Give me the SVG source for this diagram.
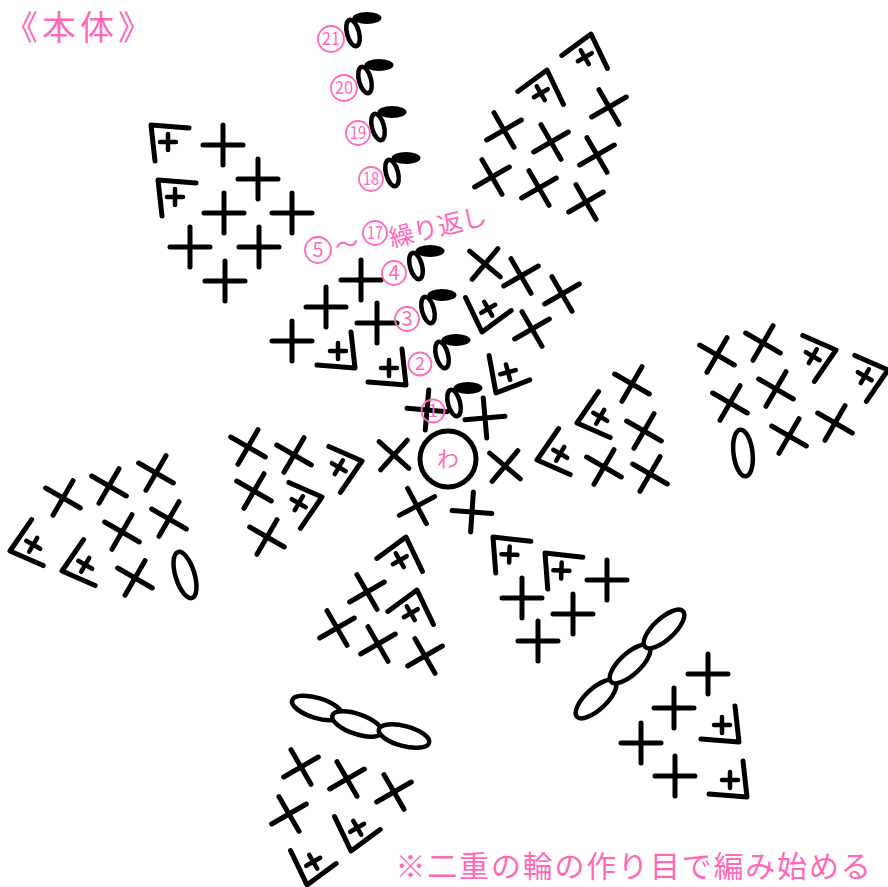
<svg xmlns="http://www.w3.org/2000/svg" width="888" height="887" viewBox="0 0 888 887">
<style>
.b{fill:none;stroke:#000;stroke-width:5;stroke-linecap:round;stroke-linejoin:round}
.s{stroke-width:4.5}
.o{fill:#fff;stroke:#000;stroke-width:4.5}
.f{fill:#000}
.r{fill:none;stroke:#ff69b8;stroke-width:1.8}
text{fill:#ff69b8;font-family:"Noto Sans CJK JP","Noto Sans",sans-serif;text-anchor:middle}
.n{font-size:18px}
</style>
<defs>
<path id="p" class="b" d="M-20 0H20M0-20V20"/>
<g id="c"><path class="b" d="M38 3L0 0L4 36"/><path class="b s" d="M9 17H25M17 9V25"/></g>
<g id="d"><ellipse class="f" cx="14" cy="-15" rx="14.5" ry="6"/><ellipse class="o" rx="6" ry="13.5" transform="rotate(-15)"/></g>
</defs>
<rect width="888" height="887" fill="#fff"/>
<g id="title"><text x="80" y="40" font-size="34" letter-spacing="4">《本体》</text></g>
<g id="ring"><circle class="b" cx="448" cy="459" r="28"/><text x="448" y="467" font-size="22">わ</text></g>
<g id="round-centre">
<use href="#p" transform="translate(427 410) rotate(5)"/>
<use href="#p" transform="translate(485 418) rotate(-5)"/>
<use href="#p" transform="translate(394 455) rotate(42)"/>
<use href="#p" transform="translate(505 466) rotate(40)"/>
<use href="#p" transform="translate(417 506) rotate(-28)"/>
<use href="#p" transform="translate(472 512) rotate(4)"/>
</g>
<g id="block-upper-left-inner">
<use href="#p" transform="translate(361 280)"/>
<use href="#p" transform="translate(326 307)"/>
<use href="#p" transform="translate(377 323)"/>
<use href="#p" transform="translate(292 341)"/>
<use href="#c" transform="translate(355 368) rotate(180)"/>
<use href="#c" transform="translate(406 385) rotate(180)"/>
</g>
<g id="block-upper-right-inner">
<use href="#p" transform="translate(485 264) rotate(40)"/>
<use href="#p" transform="translate(521 276) rotate(-30)"/>
<use href="#p" transform="translate(562 294) rotate(-30)"/>
<use href="#p" transform="translate(532 329) rotate(-30)"/>
<use href="#c" transform="translate(482 332) rotate(-120)"/>
<use href="#c" transform="translate(496 393) rotate(-105)"/>
</g>
<g id="block-top-left">
<use href="#p" transform="translate(223 145)"/>
<use href="#p" transform="translate(258 179)"/>
<use href="#p" transform="translate(224 213)"/>
<use href="#p" transform="translate(292 213)"/>
<use href="#p" transform="translate(190 247)"/>
<use href="#p" transform="translate(259 247)"/>
<use href="#p" transform="translate(225 281)"/>
<use href="#c" transform="translate(151 125)"/>
<use href="#c" transform="translate(158 180)"/>
</g>
<g id="block-top-right">
<use href="#p" transform="translate(504 130) rotate(-30)"/>
<use href="#p" transform="translate(551 142) rotate(-30)"/>
<use href="#p" transform="translate(609 107) rotate(-30)"/>
<use href="#p" transform="translate(597 155) rotate(-30)"/>
<use href="#p" transform="translate(492 177) rotate(-30)"/>
<use href="#p" transform="translate(539 188) rotate(-30)"/>
<use href="#p" transform="translate(586 202) rotate(-30)"/>
<use href="#c" transform="translate(547 70) rotate(60)"/>
<use href="#c" transform="translate(591 34) rotate(60)"/>
</g>
<g id="block-right-inner">
<use href="#p" transform="translate(632 384) rotate(30)"/>
<use href="#p" transform="translate(644 431) rotate(30)"/>
<use href="#p" transform="translate(604 467) rotate(30)"/>
<use href="#p" transform="translate(650 474) rotate(30)"/>
<use href="#c" transform="translate(577 423) rotate(-60)"/>
<use href="#c" transform="translate(537 460) rotate(-60)"/>
</g>
<g id="block-right-outer">
<use href="#p" transform="translate(717 355) rotate(30)"/>
<use href="#p" transform="translate(763 343) rotate(30)"/>
<use href="#p" transform="translate(730 403) rotate(30)"/>
<use href="#p" transform="translate(776 389) rotate(30)"/>
<use href="#p" transform="translate(835 423) rotate(30)"/>
<use href="#p" transform="translate(789 436) rotate(30)"/>
<use href="#c" transform="translate(836 350) rotate(120)"/>
<use href="#c" transform="translate(888 370) rotate(120)"/>
<ellipse class="o" cx="743" cy="453" rx="9.5" ry="23.5" transform="rotate(-7 743 453)"/>
</g>
<g id="block-left-outer">
<use href="#p" transform="translate(63 498) rotate(30)"/>
<use href="#p" transform="translate(109 486) rotate(30)"/>
<use href="#p" transform="translate(156 473) rotate(30)"/>
<use href="#p" transform="translate(122 532) rotate(30)"/>
<use href="#p" transform="translate(169 519) rotate(30)"/>
<use href="#p" transform="translate(135 578) rotate(30)"/>
<use href="#c" transform="translate(10 551) rotate(-60)"/>
<use href="#c" transform="translate(62 571) rotate(-60)"/>
<ellipse class="o" cx="185" cy="575" rx="9.5" ry="24" transform="rotate(-17 185 575)"/>
</g>
<g id="block-left-inner">
<use href="#p" transform="translate(248 447) rotate(30)"/>
<use href="#p" transform="translate(294 455) rotate(30)"/>
<use href="#p" transform="translate(254 491) rotate(30)"/>
<use href="#p" transform="translate(267 537) rotate(30)"/>
<use href="#c" transform="translate(362 461) rotate(120)"/>
<use href="#c" transform="translate(322 497) rotate(120)"/>
</g>
<g id="block-lower-left-inner">
<use href="#p" transform="translate(367 592) rotate(-30)"/>
<use href="#p" transform="translate(337 628) rotate(-30)"/>
<use href="#p" transform="translate(378 644) rotate(-30)"/>
<use href="#p" transform="translate(425 656) rotate(-30)"/>
<use href="#c" transform="translate(406 537) rotate(60)"/>
<use href="#c" transform="translate(417 590) rotate(60)"/>
</g>
<g id="block-lower-right-inner">
<use href="#p" transform="translate(522 598)"/>
<use href="#p" transform="translate(573 614)"/>
<use href="#p" transform="translate(607 580)"/>
<use href="#p" transform="translate(538 641)"/>
<use href="#c" transform="translate(493 537) rotate(2)"/>
<use href="#c" transform="translate(545 553) rotate(2)"/>
</g>
<g id="block-lower-right-outer">
<use href="#p" transform="translate(708 674)"/>
<use href="#p" transform="translate(674 708)"/>
<use href="#p" transform="translate(641 743)"/>
<use href="#p" transform="translate(675 776)"/>
<use href="#c" transform="translate(739 742) rotate(180)"/>
<use href="#c" transform="translate(747 797) rotate(180)"/>
<ellipse class="o" cx="596" cy="699" rx="26" ry="10.5" transform="rotate(-43 596 699)"/>
<ellipse class="o" cx="630" cy="664" rx="26" ry="10.5" transform="rotate(-43 630 664)"/>
<ellipse class="o" cx="664" cy="629" rx="26" ry="10.5" transform="rotate(-43 664 629)"/>
</g>
<g id="block-lower-left-outer">
<use href="#p" transform="translate(301 767) rotate(-30)"/>
<use href="#p" transform="translate(347 779) rotate(-30)"/>
<use href="#p" transform="translate(394 792) rotate(-30)"/>
<use href="#p" transform="translate(289 814) rotate(-30)"/>
<use href="#c" transform="translate(351 851) rotate(-120)"/>
<use href="#c" transform="translate(307 885) rotate(-120)"/>
<ellipse class="o" cx="317" cy="708" rx="26" ry="10" transform="rotate(17 317 708)"/>
<ellipse class="o" cx="357" cy="724" rx="26" ry="10" transform="rotate(19 357 724)"/>
<ellipse class="o" cx="404" cy="736" rx="26" ry="10" transform="rotate(15 404 736)"/>
</g>
<g id="stitch-1"><use href="#d" transform="translate(454 403)"/></g>
<g id="stitch-2"><use href="#d" transform="translate(442 355)"/></g>
<g id="stitch-3"><use href="#d" transform="translate(428 310)"/></g>
<g id="stitch-4"><use href="#d" transform="translate(416 266)"/></g>
<g id="stitch-18"><use href="#d" transform="translate(392 173)"/></g>
<g id="stitch-19"><use href="#d" transform="translate(378 127)"/></g>
<g id="stitch-20"><use href="#d" transform="translate(365 80)"/></g>
<g id="stitch-21"><use href="#d" transform="translate(353 33)"/></g>
<g id="labels">
<g id="l21"><circle class="r" cx="331" cy="39" r="13"/><text class="n" x="331" y="45" textLength="18" lengthAdjust="spacingAndGlyphs">21</text></g>
<g id="l20"><circle class="r" cx="344" cy="88" r="13"/><text class="n" x="344" y="94" textLength="18" lengthAdjust="spacingAndGlyphs">20</text></g>
<g id="l19"><circle class="r" cx="358" cy="133" r="12"/><text class="n" x="358" y="139" textLength="16" lengthAdjust="spacingAndGlyphs">19</text></g>
<g id="l18"><circle class="r" cx="371" cy="179" r="12"/><text class="n" x="371" y="185" textLength="16" lengthAdjust="spacingAndGlyphs">18</text></g>
<g id="l17"><circle class="r" cx="375" cy="233" r="12"/><text class="n" x="375" y="239" textLength="16" lengthAdjust="spacingAndGlyphs">17</text></g>
<g id="l5"><circle class="r" cx="318" cy="250" r="13"/><text x="318" y="257" font-size="20">5</text></g>
<g id="l4"><circle class="r" cx="394" cy="273" r="12"/><text x="394" y="280" font-size="20">4</text></g>
<g id="l3"><circle class="r" cx="407" cy="319" r="12"/><text x="407" y="326" font-size="20">3</text></g>
<g id="l2"><circle class="r" cx="420" cy="364" r="11.5"/><text x="420" y="370" font-size="18">2</text></g>
<g id="l1"><circle class="r" cx="433" cy="411" r="11.5"/><text x="433" y="417" font-size="18">1</text></g>
<text x="347" y="253" font-size="24" transform="rotate(-14 347 245)">～</text>
<text x="438" y="236" font-size="25" transform="rotate(-14 438 228)">繰り返し</text>
</g>
<g id="note"><text x="634" y="877" font-size="30" letter-spacing="1.8">※二重の輪の作り目で編み始める</text></g>
</svg>
